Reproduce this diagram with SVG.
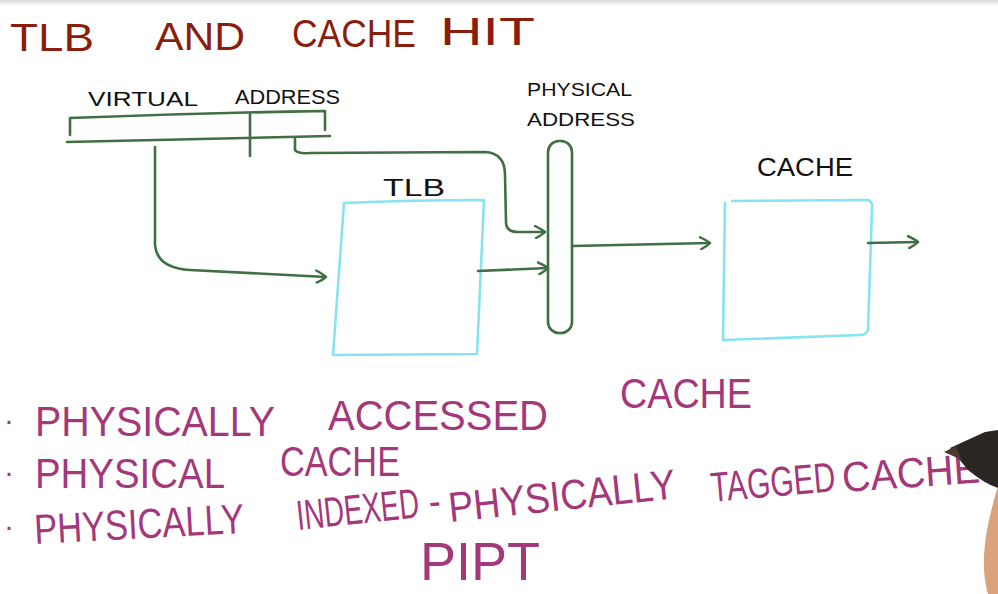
<svg xmlns="http://www.w3.org/2000/svg" width="998" height="594" viewBox="0 0 998 594">
<defs>
<linearGradient id="topband" x1="0" y1="0" x2="0" y2="1">
<stop offset="0" stop-color="#d8d8d8"/><stop offset="1" stop-color="#ffffff"/>
</linearGradient>
<marker id="arr" viewBox="0 0 12 14" refX="11" refY="7" markerWidth="12" markerHeight="14" markerUnits="userSpaceOnUse" orient="auto">
<path d="M1,1 Q9,5 11,7 Q8,10 2,13" fill="none" stroke="#3f6f42" stroke-width="2.4" stroke-linecap="round"/>
</marker>
<style>
.t{font-family:"Liberation Sans",Arial,sans-serif;}
.title{fill:#8a1d0c;font-size:38px;}
.lbl{fill:#111;font-size:20px;}
.pk{fill:#a3387a;font-size:42px;}
.g{fill:none;stroke:#3f6f42;stroke-width:2.6;stroke-linecap:round;stroke-linejoin:round;}
.box{fill:none;stroke:#86e3f0;stroke-width:2.6;stroke-linejoin:round;}
</style>
</defs>
<rect x="0" y="0" width="998" height="594" fill="#ffffff"/>
<rect x="0" y="0" width="998" height="6" fill="url(#topband)"/>

<g id="title" class="t title">
<text x="10" y="51" textLength="84" lengthAdjust="spacingAndGlyphs">TLB</text>
<text x="155" y="50" textLength="90" lengthAdjust="spacingAndGlyphs">AND</text>
<text x="292" y="47" textLength="124" lengthAdjust="spacingAndGlyphs">CACHE</text>
<text x="440" y="45" textLength="95" lengthAdjust="spacingAndGlyphs">HIT</text>
</g>

<g id="virtual-address">
<text class="t lbl" x="88" y="106" textLength="110" lengthAdjust="spacingAndGlyphs">VIRTUAL</text>
<text class="t lbl" x="235" y="104" textLength="105" lengthAdjust="spacingAndGlyphs">ADDRESS</text>
<path class="g" d="M70,135 L70,118 Q200,113 325,111 L325,130"/>
<path class="g" d="M67,142 Q200,139 330,136"/>
<path class="g" d="M250,113 L250,156"/>
</g>

<g id="tlb">
<text class="t lbl" x="383" y="196" style="font-size:24px" textLength="62" lengthAdjust="spacingAndGlyphs">TLB</text>
<path class="box" d="M344,203 Q410,200 484,200 L477,354 L333,355 Z"/>
</g>

<g id="physical-address">
<text class="t lbl" x="527" y="96" style="font-size:19px" textLength="105" lengthAdjust="spacingAndGlyphs">PHYSICAL</text>
<text class="t lbl" x="527" y="126" style="font-size:19px" textLength="108" lengthAdjust="spacingAndGlyphs">ADDRESS</text>
<rect x="548" y="141" width="24" height="192" rx="11" ry="11" fill="none" stroke="#3f6f42" stroke-width="2.6"/>
</g>

<g id="cache">
<text class="t lbl" x="757" y="176" style="font-size:26px" textLength="96" lengthAdjust="spacingAndGlyphs">CACHE</text>
<path class="box" d="M731,201 L868,200 Q873,202 872,208 L868,330 Q866,335 860,335 L723,340 L725,202"/>
</g>

<g id="connectors">
<path class="g" d="M295,138 L295,150 Q298,154 310,153 L485,152 Q505,153 505,175 L506,222 Q506,232 518,232 L545,232" marker-end="url(#arr)"/>
<path class="g" d="M155,147 L155,245 Q157,268 190,270 L326,277" marker-end="url(#arr)"/>
<path class="g" d="M478,271 L548,268" marker-end="url(#arr)"/>
<path class="g" d="M572,246 L710,243" marker-end="url(#arr)"/>
<path class="g" d="M868,243 L918,242" marker-end="url(#arr)"/>
</g>

<g id="notes" class="t pk">
<text x="4" y="430" style="font-size:30px">·</text>
<text x="35" y="436" textLength="240" lengthAdjust="spacingAndGlyphs">PHYSICALLY</text>
<text x="328" y="430" textLength="220" lengthAdjust="spacingAndGlyphs">ACCESSED</text>
<text x="620" y="408" textLength="132" lengthAdjust="spacingAndGlyphs">CACHE</text>
<text x="4" y="482" style="font-size:30px">·</text>
<text x="35" y="488" textLength="190" lengthAdjust="spacingAndGlyphs">PHYSICAL</text>
<text x="280" y="476" textLength="120" lengthAdjust="spacingAndGlyphs">CACHE</text>
<text x="4" y="536" style="font-size:30px">·</text>
<text x="35" y="544" textLength="210" lengthAdjust="spacingAndGlyphs" transform="rotate(-3 35 544)">PHYSICALLY</text>
<text x="298" y="530" textLength="123" lengthAdjust="spacingAndGlyphs" transform="rotate(-6 298 530)">INDEXED</text>
<text x="430" y="516" textLength="12" lengthAdjust="spacingAndGlyphs" transform="rotate(-6 430 516)">-</text>
<text x="450" y="522" textLength="228" lengthAdjust="spacingAndGlyphs" transform="rotate(-6 450 522)">PHYSICALLY</text>
<text x="712" y="502" textLength="125" lengthAdjust="spacingAndGlyphs" transform="rotate(-5 712 502)">TAGGED</text>
<text x="843" y="492" textLength="138" lengthAdjust="spacingAndGlyphs" transform="rotate(-4 843 492)">CACHE</text>
<text x="420" y="580" style="font-size:54px" textLength="120" lengthAdjust="spacingAndGlyphs">PIPT</text>
</g>

<g id="marker-pen">
<path d="M998,486 C988,520 978,560 988,594 L998,594 Z" fill="#d9a27a"/>
<path d="M950,448 L985,432 L998,430 L998,488 Q985,484 968,470 Z" fill="#2a2622"/>
<path d="M944,452 L956,446 L962,460 Z" fill="#4a3a30"/>
</g>
</svg>
